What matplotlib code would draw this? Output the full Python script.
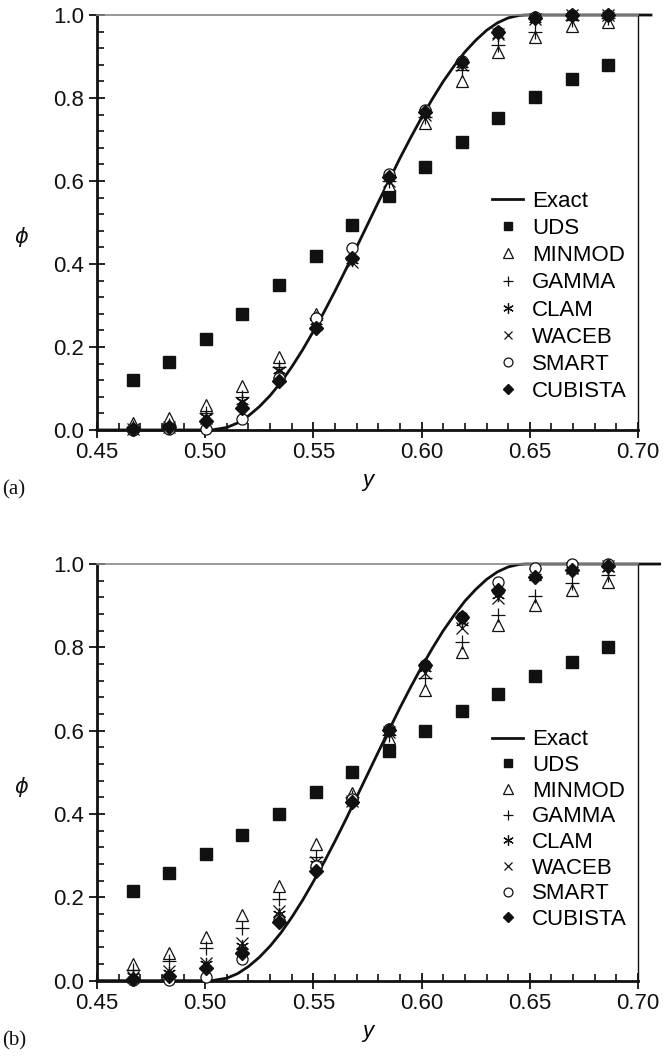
import matplotlib.pyplot as plt
from matplotlib.ticker import MultipleLocator

plt.rcParams['font.family'] = ['Liberation Sans', 'DejaVu Sans']

# grid points where the schemes are sampled
y_nodes = [0.4665, 0.4834, 0.5003, 0.5172, 0.5341, 0.5510, 0.5679,
           0.5848, 0.6017, 0.6186, 0.6355, 0.6524, 0.6693, 0.6862]

# exact profile
exact_y = [0.45, 0.503, 0.51, 0.515, 0.52, 0.525, 0.53, 0.535, 0.54, 0.545,
           0.55, 0.555, 0.56, 0.565, 0.57, 0.575, 0.58, 0.585, 0.59, 0.595,
           0.60, 0.605, 0.61, 0.615, 0.62, 0.625, 0.63, 0.635, 0.64, 0.645,
           0.648]
exact_phi = [0.0, 0.0, 0.006, 0.017, 0.034, 0.056, 0.083, 0.115, 0.152, 0.193,
             0.238, 0.285, 0.335, 0.387, 0.441, 0.495, 0.549, 0.602, 0.655,
             0.705, 0.753, 0.798, 0.840, 0.877, 0.911, 0.939, 0.963, 0.981,
             0.993, 0.999, 1.0]
exact_end_a = 0.706
exact_end_b = 0.710

# panel (a)
uds_a = [0.12, 0.165, 0.22, 0.28, 0.35, 0.42, 0.495, 0.565, 0.634, 0.695, 0.753, 0.803, 0.845, 0.88]
minmod_a = [0.017, 0.029, 0.06, 0.105, 0.177, 0.28, 0.425, 0.59, 0.74, 0.842, 0.91, 0.948, 0.973, 0.984]
gamma_a = [0.008, 0.012, 0.042, 0.08, 0.152, 0.27, 0.415, 0.6, 0.755, 0.867, 0.928, 0.96, 0.988, 0.993]
clam_a = [0.003, 0.008, 0.032, 0.07, 0.145, 0.262, 0.41, 0.607, 0.762, 0.882, 0.952, 0.99, 0.998, 1.0]
waceb_a = [0.002, 0.006, 0.028, 0.065, 0.14, 0.255, 0.405, 0.6, 0.758, 0.88, 0.955, 0.99, 1.0, 1.0]
smart_a = [0.0, 0.003, 0.002, 0.026, 0.125, 0.27, 0.438, 0.618, 0.77, 0.888, 0.96, 0.995, 1.0, 1.0]
cubista_a = [0.002, 0.008, 0.022, 0.052, 0.118, 0.246, 0.415, 0.61, 0.767, 0.887, 0.958, 0.992, 1.0, 1.0]

# panel (b)
uds_b = [0.216, 0.258, 0.303, 0.35, 0.4, 0.452, 0.502, 0.551, 0.6, 0.647, 0.688, 0.731, 0.766, 0.8]
minmod_b = [0.04, 0.066, 0.104, 0.158, 0.228, 0.328, 0.45, 0.582, 0.698, 0.788, 0.854, 0.902, 0.938, 0.958]
gamma_b = [0.026, 0.046, 0.078, 0.126, 0.196, 0.298, 0.44, 0.59, 0.726, 0.814, 0.878, 0.923, 0.955, 0.974]
clam_b = [0.012, 0.018, 0.04, 0.082, 0.16, 0.28, 0.432, 0.6, 0.75, 0.86, 0.925, 0.97, 0.985, 0.99]
waceb_b = [0.008, 0.022, 0.042, 0.09, 0.168, 0.285, 0.432, 0.598, 0.738, 0.846, 0.918, 0.975, 0.99, 0.995]
smart_b = [0.002, 0.002, 0.008, 0.052, 0.146, 0.275, 0.435, 0.605, 0.758, 0.874, 0.958, 0.991, 1.0, 1.0]
cubista_b = [0.005, 0.011, 0.03, 0.066, 0.14, 0.264, 0.43, 0.602, 0.758, 0.874, 0.938, 0.968, 0.986, 0.995]

labels = ['UDS', 'MINMOD', 'GAMMA', 'CLAM', 'WACEB', 'SMART', 'CUBISTA']

styles = [
    dict(marker='s', ms=8, mfc='#111', mec='#111'),
    dict(marker='^', ms=9, mfc='white', mec='#111', mew=0.9),
    dict(marker='+', ms=9.5, mec='#111', mew=0.9),
    dict(marker=(6, 2, 0), ms=9.5, mec='#111', mew=0.9),
    dict(marker='x', ms=8, mec='#111', mew=0.9),
    dict(marker='o', ms=8, mfc='white', mec='#111', mew=0.9),
    dict(marker='D', ms=7, mfc='#111', mec='#111'),
]


def draw_panel(ax, series, end, tag, legend_y, spacing):
    ax.plot(exact_y + [end], exact_phi + [1.0], color='#111', lw=2.0,
            clip_on=False, zorder=2, label='Exact')
    for vals, lab, st in zip(series, labels, styles):
        ax.plot(y_nodes, vals, ls='none', label=lab, clip_on=False, zorder=3, **st)

    ax.set_xlim(0.45, 0.70)
    ax.set_ylim(0.0, 1.0)
    ax.xaxis.set_major_locator(MultipleLocator(0.05))
    ax.xaxis.set_minor_locator(MultipleLocator(0.01))
    ax.yaxis.set_major_locator(MultipleLocator(0.2))
    ax.yaxis.set_minor_locator(MultipleLocator(0.04))
    ax.xaxis.set_major_formatter(plt.FormatStrFormatter('%.2f'))
    ax.yaxis.set_major_formatter(plt.FormatStrFormatter('%.1f'))
    ax.tick_params(which='major', direction='inout', length=12, width=1.3,
                   labelsize=16, colors='#111', pad=3)
    ax.tick_params(which='minor', direction='in', length=5, width=1.2, colors='#111')

    ax.spines['left'].set_linewidth(2.0)
    ax.spines['bottom'].set_linewidth(2.0)
    ax.spines['left'].set_color('#111')
    ax.spines['bottom'].set_color('#111')
    ax.spines['top'].set_color('#888')
    ax.spines['top'].set_linewidth(1.2)
    ax.spines['right'].set_color('#111')
    ax.spines['right'].set_linewidth(1.0)

    ax.set_xlabel('y', fontsize=16, style='italic', labelpad=5)
    ax.text(-0.139, 0.465, r'$\phi$', transform=ax.transAxes, fontsize=15,
            ha='center', va='center', color='#111')
    ax.text(-0.175, -0.155, tag, transform=ax.transAxes, fontsize=15,
            family='Liberation Serif', color='#111')

    ax.legend(loc='lower right', bbox_to_anchor=(1.0, legend_y), frameon=False,
              fontsize=16, handlelength=1.4, handletextpad=0.4,
              labelspacing=spacing, borderpad=0, markerscale=0.8)


fig = plt.figure(figsize=(6.63, 10.58), dpi=100)
ax_a = fig.add_axes([0.1463, 0.5936, 0.816, 0.3922])
ax_b = fig.add_axes([0.1463, 0.0731, 0.816, 0.3938])

draw_panel(ax_a, [uds_a, minmod_a, gamma_a, clam_a, waceb_a, smart_a, cubista_a],
           exact_end_a, '(a)', 0.04, 0.28)
draw_panel(ax_b, [uds_b, minmod_b, gamma_b, clam_b, waceb_b, smart_b, cubista_b],
           exact_end_b, '(b)', 0.095, 0.21)

fig.savefig('out.png', dpi=100)
